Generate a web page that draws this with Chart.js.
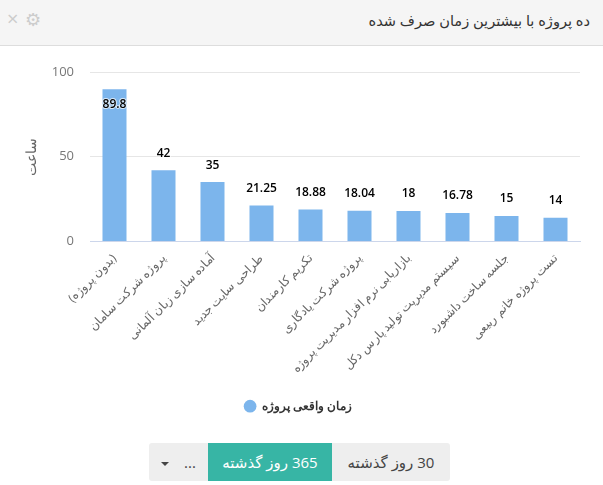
<!DOCTYPE html>
<html lang="fa">
<head>
<meta charset="utf-8">
<title>ده پروژه با بیشترین زمان صرف شده</title>
<script src="https://cdn.jsdelivr.net/npm/chart.js@4"></script>
<style>
    html, body { margin: 0; padding: 0; background: #fff; }
    body { width: 603px; height: 485px; position: relative; overflow: hidden; font-family: "Open Sans", "Noto Sans", "DejaVu Sans", sans-serif; }
    .header { position: absolute; left: 0; top: 0; width: 603px; height: 45px; background: #f5f5f5; border-bottom: 1px solid #ddd; }
    .title { position: absolute; right: 13px; top: 9px; font-size: 14.6px; line-height: 22px; color: #333; direction: rtl; white-space: nowrap; }
    .close { position: absolute; left: 7px; top: 8px; font-size: 20px; line-height: 22px; color: #ccc; }
    .gear { position: absolute; left: 25px; top: 8px; font-size: 18px; line-height: 22px; color: #ccc; }
    .chart-box { position: absolute; left: 8px; top: 47px; width: 595px; height: 378px; }
    .buttons { position: absolute; left: 149px; top: 443px; width: 301px; height: 38px; display: flex; font-size: 15px; line-height: 38px; color: #444; direction: ltr; white-space: nowrap; }
    .buttons div { text-align: center; background: #eee; box-sizing: border-box; }
    .buttons .more { width: 59px; border-radius: 3px 0 0 3px; }
    .buttons .caret { display: inline-block; width: 0; height: 0; border: 4px solid transparent; border-top-color: #444; border-bottom-width: 0; margin-right: 15px; vertical-align: middle; }
    .buttons .active { width: 124px; background: #37b5a5; color: #fff; direction: rtl; }
    .buttons .last { width: 118px; border-radius: 0 3px 3px 0; direction: rtl; }
</style>
</head>
<body>
<div class="header">
    <div class="close">×</div>
    <div class="gear">⚙</div>
    <div class="title">ده پروژه با بیشترین زمان صرف شده</div>
</div>
<div class="chart-box"><canvas id="projectChart" width="595" height="378"></canvas></div>
<div class="buttons">
    <div class="more"><span class="caret"></span>...</div>
    <div class="active">365 روز گذشته</div>
    <div class="last">30 روز گذشته</div>
</div>
<script>
const projects = [
    '(بدون پروژه)',
    'پروژه شرکت سامان',
    'آماده سازی زبان آلمانی',
    'طراحی سایت جدید',
    'تکریم کارمندان',
    'پروژه شرکت یادگاری',
    'بازاریابی نرم افزار مدیریت پروژه',
    'سیستم مدیریت تولید پارس دکل',
    'جلسه ساخت داشبورد',
    'تست پروژه خانم ربیعی'
];
const hours = [89.8, 42, 35, 21.25, 18.88, 18.04, 18, 16.78, 15, 14];
const yTicks = [0, 50, 100];

// value labels above the bars, the tallest one sits inside its bar
const valueLabels = {
    id: 'valueLabels',
    afterDatasetsDraw(chart) {
        const ctx = chart.ctx;
        ctx.save();
        ctx.font = '600 12px "Open Sans", sans-serif';
        ctx.textAlign = 'center';
        ctx.textBaseline = 'middle';
        ctx.fillStyle = '#000';
        ctx.strokeStyle = 'rgba(255,255,255,0.7)';
        ctx.lineWidth = 2;
        chart.getDatasetMeta(0).data.forEach((bar, i) => {
            const y = hours[i] > 80 ? bar.y + 15 : bar.y - 17;
            ctx.strokeText(hours[i], bar.x, y);
            ctx.fillText(hours[i], bar.x, y);
        });
        ctx.restore();
    }
};

new Chart(document.getElementById('projectChart').getContext('2d'), {
    type: 'bar',
    data: {
        labels: projects,
        datasets: [{
            label: 'زمان واقعی پروژه',
            data: hours,
            backgroundColor: '#7cb5ec',
            barPercentage: 1,
            categoryPercentage: 0.49
        }]
    },
    options: {
        responsive: false,
        animation: false,
        layout: { padding: { top: 25, right: 23, left: 8, bottom: 3 } },
        plugins: {
            tooltip: { enabled: false },
            legend: {
                position: 'bottom',
                labels: {
                    usePointStyle: true,
                    pointStyle: 'circle',
                    boxWidth: 12,
                    boxHeight: 9,
                    padding: 9,
                    color: '#333',
                    font: { family: '"Open Sans", sans-serif', size: 11.6, weight: 'bold' }
                }
            }
        },
        scales: {
            x: {
                afterFit(scale) { scale.height = 150; },
                grid: { display: false, drawTicks: false },
                border: { color: '#ccd6eb' },
                ticks: {
                    autoSkip: false,
                    minRotation: 45,
                    maxRotation: 45,
                    padding: 10,
                    color: '#666',
                    font: { family: '"Open Sans", sans-serif', size: 12 }
                }
            },
            y: {
                min: 0,
                max: 100,
                afterFit(scale) { scale.width = 74; },
                afterBuildTicks(scale) { scale.ticks = yTicks.map(value => ({ value })); },
                grid: { color: '#e6e6e6', drawTicks: false },
                border: { display: false },
                ticks: {
                    padding: 16,
                    color: '#777',
                    font: { family: '"Open Sans", sans-serif', size: 13 }
                },
                title: {
                    display: true,
                    text: 'ساعت',
                    color: '#666',
                    padding: { top: 8, bottom: 0 },
                    font: { family: '"Open Sans", sans-serif', size: 14 }
                }
            }
        }
    },
    plugins: [valueLabels]
});
</script>
</body>
</html>
